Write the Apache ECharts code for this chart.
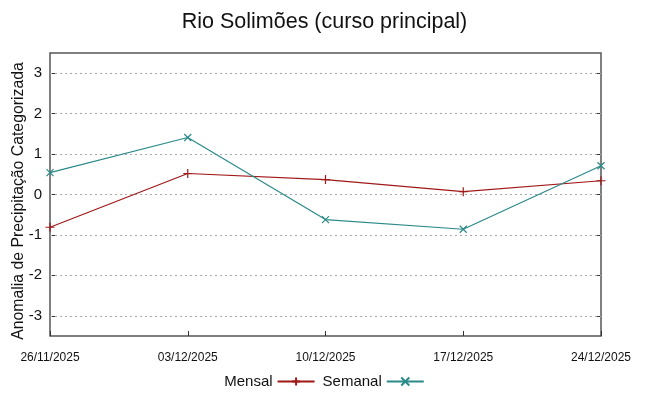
<!DOCTYPE html>
<html>
<head>
<meta charset="utf-8">
<script src="https://cdn.jsdelivr.net/npm/echarts@6/dist/echarts.min.js"></script>
<style>html,body{margin:0;padding:0;background:#fff}#c{width:649px;height:396px}</style>
</head>
<body>
<div id="c"></div>
<script>
const categories = ['26/11/2025','03/12/2025','10/12/2025','17/12/2025','24/12/2025'];
const mensal = [-0.81, 0.52, 0.37, 0.07, 0.34];
const semanal = [0.54, 1.41, -0.62, -0.86, 0.71];
const yTicks = [-3, -2, -1, 0, 1, 2, 3];
const yTitle = 'Anomalia de Precipitação Categorizada';

const chart = echarts.init(document.getElementById('c'));
const plus = 'path://M0,5 L10,5 M5,0 L5,10';
const cross = 'path://M0,0 L10,10 M10,0 L0,10';
const font = 'Liberation Sans, Arial, sans-serif';
const gridLines = yTicks.map(v => ({yAxis: v}));
chart.setOption({
  animation: false,
  title: {
    text: 'Rio Solimões (curso principal)',
    left: 'center', top: 6,
    textStyle: {fontFamily: font, fontSize: 21.5, fontWeight: 'normal', color: '#111'}
  },
  graphic: [{
    type: 'text', x: 19, y: 201, rotation: Math.PI / 2,
    style: {text: yTitle, fontFamily: font, fontSize: 15.8, fill: '#111', align: 'center', verticalAlign: 'middle'}
  }],
  legend: {
    bottom: 2, left: 'center', align: 'right',
    itemWidth: 37, itemHeight: 10, itemGap: 7,
    textStyle: {fontFamily: font, fontSize: 15, color: '#111'},
    data: ['Mensal', 'Semanal']
  },
  grid: {left: 50, right: 48, top: 53, bottom: 60, show: true, borderColor: '#555', borderWidth: 1.5, outerBoundsMode: 'none'},
  xAxis: [{
    type: 'category', data: categories, boundaryGap: false,
    axisLine: {show: false, onZero: false},
    axisTick: {show: true, inside: true, length: 5, lineStyle: {color: '#333'}},
    axisLabel: {fontFamily: font, fontSize: 12, color: '#111', margin: 16, interval: 0},
    splitLine: {show: false}
  }],
  yAxis: [{
    type: 'value', min: -3.5, max: 3.5, interval: 0.5,
    axisLine: {show: false},
    axisTick: {show: true, inside: true, length: 6, customValues: yTicks, lineStyle: {color: '#333'}},
    axisLabel: {fontFamily: font, fontSize: 15, color: '#111', margin: 8, customValues: yTicks},
    splitLine: {show: false}
  }, {
    type: 'value', min: -3.5, max: 3.5, interval: 0.5, position: 'right',
    axisLine: {show: false},
    axisTick: {show: true, inside: true, length: 6, customValues: yTicks, lineStyle: {color: '#333'}},
    axisLabel: {show: false},
    splitLine: {show: false}
  }],
  series: [{
    name: 'Mensal', type: 'line', data: mensal, z: 3,
    symbol: plus, symbolSize: 9, showAllSymbol: true,
    lineStyle: {color: '#a01818', width: 1.2},
    itemStyle: {color: 'rgba(0,0,0,0)', borderColor: '#a01818', borderWidth: 1.2},
    markLine: {
      silent: true, symbol: 'none', label: {show: false}, z: 1,
      lineStyle: {color: '#a8a8a8', type: [2, 3], width: 1},
      emphasis: {disabled: true},
      data: gridLines
    }
  }, {
    name: 'Semanal', type: 'line', data: semanal, z: 3,
    symbol: cross, symbolSize: 7, showAllSymbol: true,
    lineStyle: {color: '#2a8a8a', width: 1.2},
    itemStyle: {color: 'rgba(0,0,0,0)', borderColor: '#2a8a8a', borderWidth: 1.2}
  }]
});
</script>
</body>
</html>
